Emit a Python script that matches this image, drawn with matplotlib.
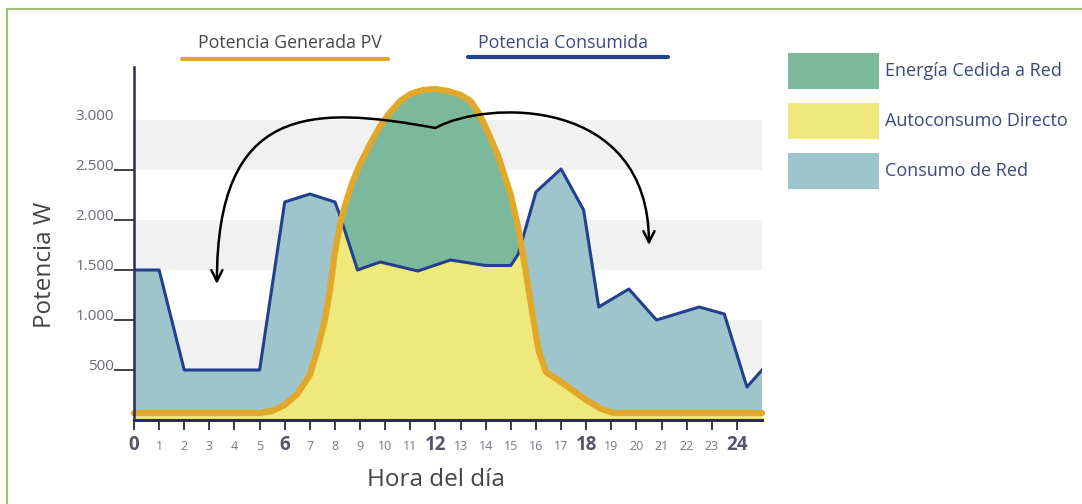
import numpy as np
import matplotlib
matplotlib.use("Agg")
import matplotlib.pyplot as plt
from matplotlib.path import Path
from matplotlib.patches import FancyArrowPatch, Rectangle
from matplotlib.lines import Line2D

plt.rcParams["font.family"] = ["Open Sans", "DejaVu Sans"]

# potencia consumida (W) por hora
cons_h = [0, 1, 2, 5, 6, 7, 8, 8.15, 8.9, 9.8, 11.3, 12.6, 14.0, 15.0, 15.3,
          16.0, 17.0, 17.9, 18.5, 19.7, 20.8, 22.5, 23.5, 24.4, 25.0]
cons_w = [1500, 1500, 500, 500, 2180, 2260, 2180, 2080, 1500, 1580, 1490, 1600, 1545, 1545, 1660,
          2280, 2510, 2100, 1130, 1310, 1000, 1130, 1060, 330, 500]

# potencia generada PV (W) por hora
pv_h = [0, 5.0, 5.5, 6.0, 6.5, 7.0, 7.3, 7.6, 7.8, 8.0, 8.2, 8.4, 8.7, 9.0, 9.4, 9.8,
        10.2, 10.6, 11.0, 11.5, 12.0, 12.5, 13.0, 13.4, 13.7, 14.0, 14.5, 15.0, 15.3,
        15.6, 15.85, 16.1, 16.4, 17.0, 17.5, 18.0, 18.6, 19.1, 25.0]
pv_w = [70, 70, 90, 150, 260, 450, 700, 1000, 1300, 1680, 1950, 2150, 2380, 2560, 2760, 2940,
        3080, 3190, 3260, 3300, 3310, 3290, 3250, 3190, 3080, 2930, 2640, 2250, 1920,
        1480, 1080, 700, 480, 380, 290, 200, 110, 70, 70]

hours = list(range(25))
major_hours = [0, 6, 12, 18, 24]
y_ticks = [500, 1000, 1500, 2000, 2500, 3000]
y_labels = ["500", "1.000", "1.500", "2.000", "2.500", "3.000"]
bands = [(500, 1000), (1500, 2000), (2500, 3000)]

legend_labels = ["Energía Cedida a Red", "Autoconsumo Directo", "Consumo de Red"]

GREEN = "#7cb89b"
YELLOW = "#efe97b"
BLUE = "#9ec4cc"
ORANGE = "#e2a82a"
NAVY = "#22408e"
AXIS = "#29286a"

W, H = 1082, 504


def fx(px):
    return px / W


def fy(py):
    return 1 - py / H


fig = plt.figure(figsize=(W / 100, H / 100), dpi=100, facecolor="white")
ax = fig.add_axes([fx(134), fy(420), (762 - 134) / W, (420 - 67) / H])
ax.set_xlim(0, 25)
ax.set_ylim(0, 3530)

for lo, hi in bands:
    ax.axhspan(lo, hi, color="#f1f1f1", lw=0, zorder=0)

x = np.union1d(cons_h, pv_h)
c = np.interp(x, cons_h, cons_w)
p = np.interp(x, pv_h, pv_w)
ax.fill_between(x, 0, p, color=YELLOW, lw=0, zorder=1)
ax.fill_between(x, c, p, where=p >= c, interpolate=True, color=GREEN, lw=0, zorder=1)
ax.fill_between(x, p, c, where=c >= p, interpolate=True, color=BLUE, lw=0, zorder=1)

ax.plot(cons_h, cons_w, color=NAVY, lw=2.2, zorder=3)
ax.plot(pv_h, pv_w, color=ORANGE, lw=4.5, zorder=4, solid_capstyle="round",
        solid_joinstyle="round", clip_on=False)

# flecha doble curvada
verts = [(3.3, 1360), (3.3, 3150), (7.0, 3150), (12.0, 2920),
         (14.0, 3200), (20.5, 3250), (20.5, 1750)]
codes = [Path.MOVETO] + [Path.CURVE4] * 6
arrow = FancyArrowPatch(path=Path(verts, codes), arrowstyle="<->", mutation_scale=20,
                        color="black", lw=1.8, transform=ax.transData, zorder=5)
ax.add_patch(arrow)

for s in ["top", "right"]:
    ax.spines[s].set_visible(False)
ax.spines["left"].set_color(AXIS)
ax.spines["left"].set_linewidth(1.8)
ax.spines["bottom"].set_color(AXIS)
ax.spines["bottom"].set_linewidth(2.2)
ax.spines["left"].set_zorder(6)
ax.spines["bottom"].set_zorder(6)

ax.set_yticks(y_ticks, y_labels)
ax.tick_params(axis="y", length=14.4, width=1.3, color="#333333", pad=0,
               labelsize=11, labelcolor="#6b6b78")
for t in ax.get_yticklabels():
    t.set_verticalalignment("baseline")
ax.yaxis.get_major_ticks()[-1].tick1line.set_visible(False)

ax.set_xticks(hours)
ax.set_xticklabels([])
ax.tick_params(axis="x", length=7, width=1.3, color="#2a2a4a")
for h in hours:
    if h in major_hours:
        ax.text(h, -30 / 353, str(h), transform=ax.get_xaxis_transform(), ha="center",
                va="baseline", fontsize=13.5, fontweight="bold", color="#55556a")
    else:
        ax.text(h, -30 / 353, str(h), transform=ax.get_xaxis_transform(), ha="center",
                va="baseline", fontsize=9, color="#777788")

fig.text(fx(436), fy(480), "Hora del día", ha="center", va="center", fontsize=17.5, color="#444444")
fig.text(fx(45), fy(265), "Potencia W", ha="center", va="center", rotation=90,
         fontsize=17.5, color="#444444")

# leyenda superior
fig.text(fx(290), fy(43), "Potencia Generada PV", ha="center", va="center",
         fontsize=12.8, color="#474747")
fig.add_artist(Line2D([fx(182), fx(388)], [fy(59), fy(59)], lw=3, color=ORANGE,
                      solid_capstyle="round"))
fig.text(fx(563), fy(43), "Potencia Consumida", ha="center", va="center",
         fontsize=12.8, color="#3a4a8a")
fig.add_artist(Line2D([fx(468), fx(668)], [fy(57), fy(57)], lw=3, color=NAVY,
                      solid_capstyle="round"))

# leyenda derecha
for i, (lab, col) in enumerate(zip(legend_labels, [GREEN, YELLOW, BLUE])):
    top = 53 + i * 50
    fig.add_artist(Rectangle((fx(788), fy(top + 36)), (879 - 788) / W, 36 / H,
                             transform=fig.transFigure, color=col, lw=0))
    fig.text(fx(885), fy(top + 18), lab, ha="left", va="center", fontsize=13, color="#3b4a7c")

# marco verde
fig.add_artist(Line2D([fx(7), 1], [fy(9), fy(9)], lw=1.5, color="#9ec56d"))
fig.add_artist(Line2D([fx(7), fx(7)], [fy(9), 0], lw=1.5, color="#9ec56d"))

fig.savefig("out.png", dpi=100)
